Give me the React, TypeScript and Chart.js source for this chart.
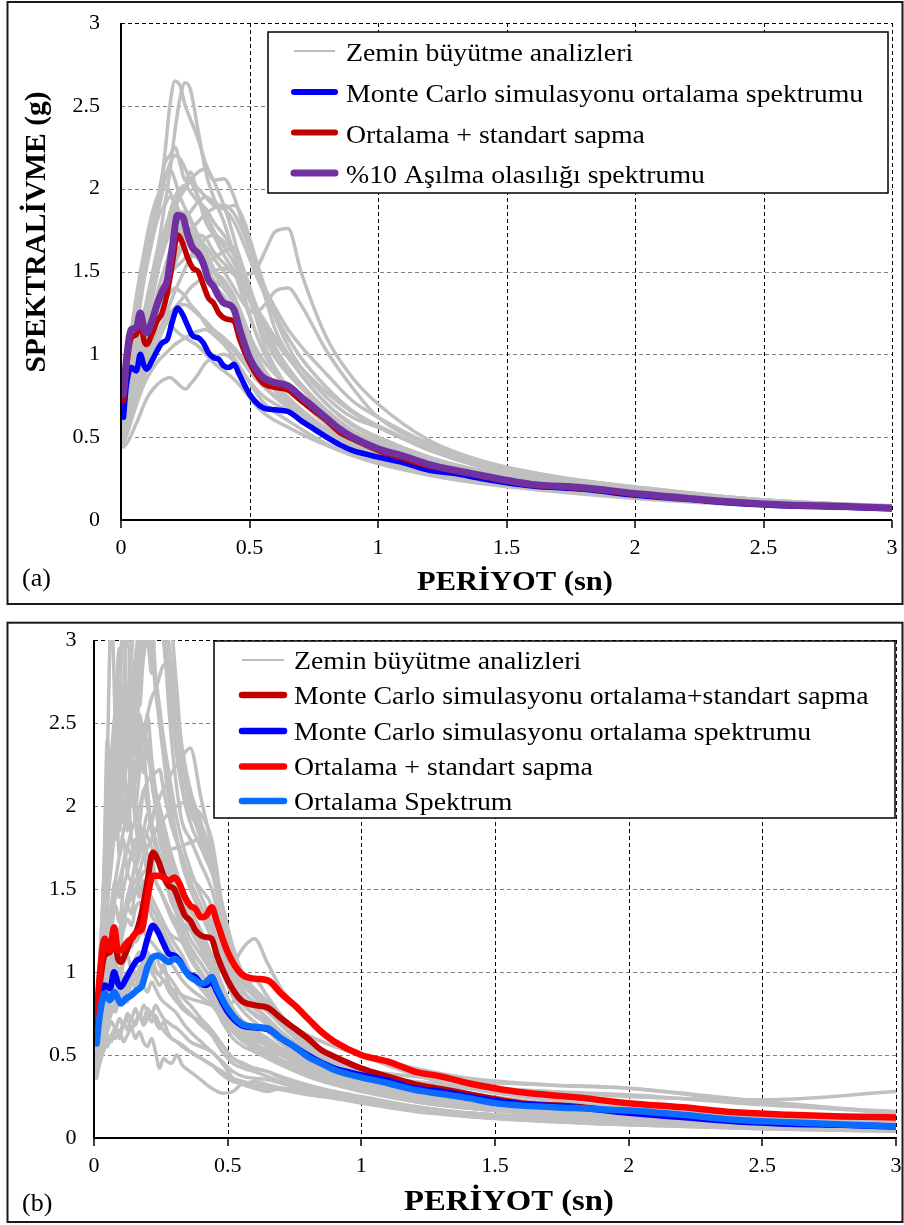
import React, { useEffect, useRef } from 'react';
import { Chart, registerables } from 'chart.js';

Chart.register(...registerables);

const SERIF = '"Liberation Serif", "Times New Roman", Times, serif';

// Tick values shared by both axes of both panels
const AXIS_TICKS = [0, 0.5, 1, 1.5, 2, 2.5, 3];

// Period grid (s) of the summary spectra
const PERIODS = [
  0.01, 0.02, 0.04, 0.06, 0.075,
  0.09, 0.1, 0.12, 0.14, 0.16,
  0.18, 0.2, 0.22, 0.24, 0.26,
  0.28, 0.3, 0.32, 0.34, 0.36,
  0.38, 0.4, 0.42, 0.44, 0.46,
  0.5, 0.55, 0.6, 0.65, 0.7,
  0.75, 0.8, 0.85, 0.9, 1.0,
  1.1, 1.2, 1.3, 1.4, 1.5,
  1.6, 1.8, 2.0, 2.2, 2.4,
  2.6, 2.8, 3.0,
];

// Monte Carlo simulation mean spectrum (g)
const MC_MEAN = [
  0.62, 0.80, 0.92, 0.90, 1.00,
  0.93, 0.91, 0.96, 1.02, 1.07,
  1.09, 1.20, 1.28, 1.24, 1.17,
  1.11, 1.10, 1.07, 1.01, 0.98,
  0.97, 0.93, 0.92, 0.94, 0.88,
  0.76, 0.68, 0.665, 0.655, 0.60,
  0.55, 0.50, 0.455, 0.42, 0.38,
  0.345, 0.30, 0.28, 0.25, 0.225,
  0.205, 0.185, 0.15, 0.125, 0.10,
  0.085, 0.078, 0.068,
];

// Monte Carlo simulation mean + standard deviation (g)
const MC_MEAN_STD = [
  0.72, 0.90, 1.10, 1.12, 1.20,
  1.08, 1.06, 1.12, 1.20, 1.25,
  1.37, 1.55, 1.72, 1.67, 1.58,
  1.52, 1.50, 1.42, 1.34, 1.31,
  1.25, 1.22, 1.21, 1.20, 1.10,
  0.95, 0.83, 0.80, 0.785, 0.72,
  0.66, 0.60, 0.53, 0.49, 0.42,
  0.37, 0.325, 0.295, 0.265, 0.235,
  0.21, 0.19, 0.155, 0.128, 0.103,
  0.088, 0.08, 0.07,
];

// 10% probability of exceedance spectrum (g)
const EXCEED_10 = [
  0.76, 0.95, 1.15, 1.16, 1.25,
  1.15, 1.13, 1.20, 1.30, 1.38,
  1.45, 1.65, 1.84, 1.83, 1.72,
  1.64, 1.61, 1.55, 1.45, 1.41,
  1.35, 1.31, 1.30, 1.27, 1.16,
  0.98, 0.865, 0.83, 0.81, 0.745,
  0.68, 0.615, 0.55, 0.50, 0.43,
  0.385, 0.335, 0.30, 0.27, 0.24,
  0.215, 0.195, 0.16, 0.132, 0.107,
  0.09, 0.083, 0.072,
];

// Site response analyses: mean + standard deviation (g)
const SITE_MEAN_STD = [
  0.72, 0.95, 1.20, 1.13, 1.27,
  1.13, 1.13, 1.17, 1.20, 1.24,
  1.26, 1.45, 1.58, 1.58, 1.57,
  1.55, 1.57, 1.53, 1.45, 1.40,
  1.38, 1.33, 1.34, 1.39, 1.30,
  1.12, 0.99, 0.96, 0.95, 0.87,
  0.80, 0.72, 0.64, 0.58, 0.50,
  0.46, 0.40, 0.37, 0.33, 0.30,
  0.275, 0.245, 0.21, 0.185, 0.155,
  0.14, 0.13, 0.124,
];

// Site response analyses: mean spectrum (g)
const SITE_MEAN = [
  0.57, 0.72, 0.87, 0.83, 0.88,
  0.84, 0.81, 0.84, 0.86, 0.89,
  0.92, 1.03, 1.09, 1.10, 1.08,
  1.06, 1.08, 1.06, 1.01, 0.97,
  0.95, 0.93, 0.94, 0.97, 0.90,
  0.78, 0.69, 0.67, 0.66, 0.60,
  0.55, 0.49, 0.45, 0.41, 0.365,
  0.33, 0.29, 0.265, 0.24, 0.21,
  0.195, 0.18, 0.165, 0.14, 0.11,
  0.095, 0.082, 0.07,
];

// Period grid of the individual site response spectra, panel (a)
const PERIODS_A = [
  0.01, 0.03, 0.05, 0.07, 0.09,
  0.11, 0.13, 0.15, 0.17, 0.19,
  0.21, 0.23, 0.25, 0.27, 0.30,
  0.33, 0.36, 0.40, 0.44, 0.48,
  0.52, 0.56, 0.60, 0.65, 0.70,
  0.80, 0.90, 1.0, 1.2, 1.4,
  1.7, 2.0, 2.5, 3.0,
];

// Individual site response spectra, panel (a) (g)
const SITE_CURVES_A = [
  [0.60, 0.85, 1.05, 1.25, 1.45, 1.60, 1.75, 1.95, 2.20, 2.50, 2.65, 2.62, 2.50, 2.42, 2.30, 2.15, 2.05, 1.90, 1.70, 1.45, 1.25, 1.05, 0.92, 0.80, 0.72, 0.58, 0.48, 0.42, 0.33, 0.26, 0.20, 0.16, 0.10, 0.07],
  [0.55, 0.75, 0.95, 1.10, 1.25, 1.40, 1.55, 1.70, 1.90, 2.10, 2.35, 2.55, 2.64, 2.60, 2.35, 2.10, 1.95, 1.80, 1.60, 1.35, 1.15, 1.00, 0.90, 0.80, 0.72, 0.58, 0.49, 0.43, 0.34, 0.27, 0.21, 0.16, 0.10, 0.07],
  [0.65, 0.90, 1.10, 1.35, 1.55, 1.65, 1.80, 1.90, 2.05, 2.15, 2.20, 2.18, 2.12, 2.05, 1.95, 1.85, 1.75, 1.65, 1.55, 1.40, 1.25, 1.10, 0.98, 0.88, 0.80, 0.64, 0.52, 0.45, 0.35, 0.28, 0.21, 0.17, 0.11, 0.075],
  [0.55, 0.70, 0.85, 1.00, 1.15, 1.30, 1.45, 1.60, 1.70, 1.80, 1.88, 1.95, 2.00, 2.05, 2.10, 2.12, 2.05, 2.06, 1.95, 1.75, 1.55, 1.35, 1.15, 1.00, 0.88, 0.70, 0.58, 0.50, 0.38, 0.30, 0.23, 0.18, 0.11, 0.08],
  [0.50, 0.65, 0.80, 0.95, 1.10, 1.25, 1.40, 1.55, 1.70, 1.85, 1.95, 2.00, 2.02, 1.98, 1.92, 1.88, 1.80, 1.72, 1.62, 1.48, 1.30, 1.15, 1.02, 0.90, 0.82, 0.66, 0.54, 0.47, 0.36, 0.29, 0.22, 0.17, 0.11, 0.075],
  [0.70, 0.95, 1.20, 1.40, 1.55, 1.65, 1.75, 1.85, 1.90, 1.95, 1.92, 1.85, 1.80, 1.75, 1.65, 1.55, 1.45, 1.40, 1.30, 1.15, 1.00, 0.90, 0.82, 0.74, 0.66, 0.54, 0.45, 0.39, 0.31, 0.25, 0.19, 0.15, 0.10, 0.07],
  [0.48, 0.60, 0.72, 0.85, 0.95, 1.05, 1.15, 1.25, 1.35, 1.45, 1.55, 1.62, 1.68, 1.70, 1.72, 1.70, 1.62, 1.55, 1.50, 1.48, 1.50, 1.62, 1.74, 1.76, 1.50, 1.10, 0.86, 0.70, 0.48, 0.36, 0.26, 0.20, 0.12, 0.085],
  [0.50, 0.62, 0.75, 0.88, 1.00, 1.10, 1.20, 1.30, 1.40, 1.50, 1.58, 1.65, 1.70, 1.72, 1.70, 1.65, 1.58, 1.50, 1.40, 1.30, 1.25, 1.30, 1.38, 1.40, 1.30, 1.02, 0.80, 0.62, 0.45, 0.34, 0.25, 0.19, 0.12, 0.08],
  [0.44, 0.48, 0.55, 0.62, 0.70, 0.76, 0.80, 0.83, 0.85, 0.86, 0.84, 0.81, 0.79, 0.82, 0.88, 0.95, 0.98, 1.00, 0.96, 0.88, 0.80, 0.74, 0.70, 0.66, 0.62, 0.53, 0.45, 0.40, 0.32, 0.26, 0.20, 0.15, 0.10, 0.07],
  [0.58, 0.75, 0.90, 1.02, 1.12, 1.20, 1.28, 1.35, 1.42, 1.48, 1.52, 1.55, 1.58, 1.60, 1.58, 1.55, 1.50, 1.45, 1.35, 1.20, 1.05, 0.95, 0.88, 0.80, 0.72, 0.58, 0.48, 0.42, 0.33, 0.26, 0.20, 0.16, 0.10, 0.07],
  [0.62, 0.82, 1.00, 1.15, 1.25, 1.35, 1.45, 1.55, 1.65, 1.75, 1.82, 1.86, 1.85, 1.80, 1.70, 1.60, 1.50, 1.40, 1.30, 1.15, 1.00, 0.88, 0.80, 0.72, 0.65, 0.53, 0.44, 0.38, 0.30, 0.24, 0.18, 0.14, 0.09, 0.065],
  [0.68, 0.88, 1.05, 1.15, 1.20, 1.22, 1.25, 1.26, 1.22, 1.18, 1.15, 1.12, 1.10, 1.08, 1.05, 1.00, 0.95, 0.90, 0.85, 0.78, 0.70, 0.64, 0.60, 0.56, 0.52, 0.45, 0.39, 0.35, 0.28, 0.23, 0.18, 0.14, 0.09, 0.065],
  [0.60, 0.80, 0.98, 1.12, 1.25, 1.38, 1.50, 1.62, 1.75, 1.85, 1.92, 1.98, 2.02, 2.05, 2.00, 1.95, 1.90, 1.88, 1.90, 1.80, 1.60, 1.40, 1.22, 1.05, 0.92, 0.74, 0.62, 0.56, 0.42, 0.32, 0.23, 0.18, 0.11, 0.08],
  [0.52, 0.70, 0.85, 0.98, 1.08, 1.16, 1.22, 1.28, 1.33, 1.37, 1.40, 1.38, 1.35, 1.30, 1.25, 1.18, 1.12, 1.06, 0.98, 0.88, 0.78, 0.70, 0.65, 0.60, 0.55, 0.46, 0.39, 0.34, 0.27, 0.22, 0.17, 0.13, 0.085, 0.06],
  [0.50, 0.60, 0.70, 0.80, 0.90, 1.00, 1.08, 1.15, 1.22, 1.30, 1.38, 1.45, 1.52, 1.58, 1.65, 1.70, 1.72, 1.68, 1.60, 1.45, 1.30, 1.18, 1.08, 0.98, 0.88, 0.70, 0.57, 0.49, 0.37, 0.29, 0.22, 0.17, 0.11, 0.075],
  [0.66, 0.90, 1.10, 1.30, 1.50, 1.68, 1.85, 2.00, 2.15, 2.20, 2.25, 2.15, 2.05, 2.10, 1.95, 1.80, 1.72, 1.60, 1.50, 1.32, 1.15, 1.00, 0.90, 0.80, 0.72, 0.58, 0.48, 0.42, 0.33, 0.26, 0.20, 0.16, 0.10, 0.07],
  [0.46, 0.55, 0.65, 0.74, 0.82, 0.88, 0.93, 0.97, 1.00, 1.03, 1.06, 1.08, 1.10, 1.12, 1.14, 1.15, 1.12, 1.08, 1.02, 0.94, 0.86, 0.80, 0.75, 0.70, 0.65, 0.55, 0.47, 0.41, 0.32, 0.26, 0.20, 0.15, 0.10, 0.07],
  [0.55, 0.68, 0.80, 0.92, 1.02, 1.12, 1.22, 1.32, 1.42, 1.50, 1.58, 1.65, 1.70, 1.75, 1.80, 1.85, 1.88, 1.90, 1.85, 1.72, 1.55, 1.40, 1.28, 1.15, 1.05, 0.88, 0.72, 0.62, 0.46, 0.35, 0.26, 0.20, 0.12, 0.085],
  [0.62, 0.85, 1.08, 1.30, 1.50, 1.68, 1.85, 1.98, 2.08, 2.12, 2.05, 1.95, 1.88, 1.82, 1.72, 1.62, 1.52, 1.42, 1.32, 1.18, 1.02, 0.90, 0.82, 0.74, 0.67, 0.55, 0.46, 0.40, 0.31, 0.25, 0.19, 0.15, 0.10, 0.07],
  [0.52, 0.66, 0.80, 0.94, 1.06, 1.18, 1.30, 1.42, 1.52, 1.62, 1.70, 1.76, 1.82, 1.86, 1.92, 1.95, 1.92, 1.88, 1.80, 1.66, 1.50, 1.36, 1.24, 1.10, 0.98, 0.80, 0.66, 0.57, 0.43, 0.33, 0.25, 0.19, 0.12, 0.08],
  [0.50, 0.62, 0.74, 0.85, 0.95, 1.03, 1.10, 1.16, 1.21, 1.25, 1.28, 1.30, 1.30, 1.28, 1.24, 1.20, 1.15, 1.10, 1.04, 0.96, 0.88, 0.80, 0.74, 0.68, 0.62, 0.52, 0.44, 0.38, 0.30, 0.24, 0.19, 0.14, 0.09, 0.065],
  [0.72, 1.00, 1.25, 1.45, 1.62, 1.78, 1.90, 1.98, 2.02, 1.98, 1.90, 1.80, 1.72, 1.66, 1.58, 1.50, 1.42, 1.35, 1.25, 1.10, 0.95, 0.85, 0.78, 0.70, 0.63, 0.52, 0.43, 0.37, 0.29, 0.23, 0.18, 0.14, 0.09, 0.065],
  [0.48, 0.56, 0.66, 0.76, 0.86, 0.95, 1.03, 1.10, 1.17, 1.23, 1.28, 1.32, 1.36, 1.40, 1.44, 1.47, 1.50, 1.52, 1.48, 1.40, 1.30, 1.20, 1.10, 1.00, 0.92, 0.77, 0.65, 0.56, 0.43, 0.33, 0.25, 0.19, 0.12, 0.08],
  [0.58, 0.76, 0.94, 1.10, 1.24, 1.36, 1.48, 1.58, 1.66, 1.72, 1.75, 1.74, 1.70, 1.64, 1.58, 1.55, 1.58, 1.62, 1.65, 1.50, 1.32, 1.16, 1.04, 0.92, 0.82, 0.66, 0.54, 0.46, 0.35, 0.28, 0.21, 0.16, 0.10, 0.075],
];

// Period grid of the individual site response spectra, panel (b)
const PERIODS_B = [
  0.01, 0.02, 0.035, 0.05, 0.065,
  0.08, 0.095, 0.11, 0.125, 0.14,
  0.155, 0.17, 0.185, 0.2, 0.215,
  0.23, 0.245, 0.26, 0.275, 0.29,
  0.31, 0.33, 0.36, 0.4, 0.44,
  0.48, 0.52, 0.56, 0.6, 0.65,
  0.7, 0.8, 0.9, 1.0, 1.2,
  1.4, 1.7, 2.0, 2.5, 3.0,
];

// Individual site response spectra, panel (b) (g)
const SITE_CURVES_B = [
  [0.70, 0.90, 1.40, 1.90, 2.20, 1.80, 2.10, 2.40, 2.00, 2.30, 2.60, 2.90, 3.30, 3.60, 3.20, 2.80, 2.60, 2.40, 2.20, 2.00, 1.80, 1.70, 1.55, 1.40, 1.25, 1.05, 0.90, 0.80, 0.75, 0.70, 0.62, 0.50, 0.42, 0.37, 0.28, 0.22, 0.16, 0.13, 0.09, 0.07],
  [0.60, 0.80, 1.10, 1.50, 1.90, 2.40, 2.20, 2.60, 3.20, 2.40, 2.00, 2.20, 2.30, 2.10, 1.90, 2.00, 1.80, 1.70, 1.60, 1.50, 1.40, 1.30, 1.20, 1.10, 1.00, 0.85, 0.72, 0.65, 0.60, 0.55, 0.50, 0.42, 0.36, 0.32, 0.25, 0.20, 0.15, 0.12, 0.08, 0.06],
  [0.80, 1.00, 1.30, 1.60, 1.80, 2.00, 1.90, 2.10, 2.30, 2.50, 2.40, 2.70, 2.90, 3.10, 3.40, 3.50, 3.30, 3.00, 2.80, 2.85, 2.40, 2.10, 1.90, 1.75, 1.60, 1.40, 1.15, 0.98, 0.90, 0.82, 0.72, 0.58, 0.48, 0.42, 0.32, 0.26, 0.20, 0.16, 0.12, 0.09],
  [0.55, 0.65, 0.80, 1.00, 1.10, 1.25, 1.15, 1.30, 1.40, 1.35, 1.50, 1.45, 1.55, 1.50, 1.45, 1.40, 1.35, 1.30, 1.25, 1.20, 1.15, 1.10, 1.00, 0.92, 0.85, 0.75, 0.64, 0.58, 0.54, 0.50, 0.45, 0.38, 0.33, 0.29, 0.22, 0.18, 0.14, 0.11, 0.08, 0.06],
  [0.40, 0.45, 0.55, 0.62, 0.58, 0.66, 0.60, 0.70, 0.65, 0.72, 0.68, 0.75, 0.70, 0.78, 0.74, 0.80, 0.76, 0.72, 0.70, 0.68, 0.66, 0.63, 0.58, 0.55, 0.52, 0.45, 0.36, 0.32, 0.30, 0.28, 0.30, 0.28, 0.25, 0.22, 0.17, 0.14, 0.11, 0.09, 0.06, 0.045],
  [0.65, 0.80, 1.00, 1.20, 1.40, 1.55, 1.70, 1.85, 1.95, 2.05, 2.15, 2.30, 2.45, 2.55, 2.65, 2.70, 2.78, 2.85, 2.80, 2.60, 2.30, 2.10, 1.95, 1.85, 1.70, 1.35, 1.05, 0.92, 0.85, 0.78, 0.68, 0.55, 0.46, 0.40, 0.31, 0.25, 0.19, 0.15, 0.11, 0.08],
  [0.75, 1.00, 1.50, 2.00, 2.30, 2.55, 2.20, 1.90, 2.10, 1.80, 1.70, 1.90, 1.75, 1.60, 1.70, 1.55, 1.50, 1.45, 1.40, 1.35, 1.30, 1.20, 1.10, 1.00, 0.90, 0.78, 0.66, 0.60, 0.56, 0.52, 0.47, 0.40, 0.34, 0.30, 0.23, 0.19, 0.14, 0.11, 0.08, 0.06],
  [0.60, 0.70, 0.90, 1.10, 1.25, 1.40, 1.30, 1.50, 1.60, 1.70, 1.65, 1.80, 1.85, 1.95, 1.90, 1.80, 1.70, 1.60, 1.55, 1.45, 1.35, 1.30, 1.25, 1.20, 1.10, 1.00, 1.05, 1.15, 1.20, 1.05, 0.90, 0.72, 0.58, 0.50, 0.38, 0.30, 0.23, 0.18, 0.13, 0.10],
  [0.70, 0.95, 1.30, 1.70, 2.10, 2.50, 2.30, 2.70, 2.50, 2.90, 3.20, 3.50, 3.10, 3.40, 3.00, 2.70, 2.50, 2.30, 2.10, 1.95, 1.80, 1.65, 1.50, 1.35, 1.20, 1.00, 0.85, 0.76, 0.70, 0.64, 0.57, 0.46, 0.39, 0.34, 0.26, 0.21, 0.16, 0.13, 0.09, 0.07],
  [0.36, 0.45, 0.60, 0.72, 0.80, 0.76, 0.85, 0.90, 0.82, 0.95, 1.00, 0.92, 1.05, 1.00, 1.10, 1.02, 0.98, 1.05, 0.95, 0.90, 0.85, 0.80, 0.75, 0.68, 0.62, 0.52, 0.45, 0.42, 0.40, 0.37, 0.34, 0.29, 0.26, 0.23, 0.18, 0.15, 0.12, 0.10, 0.07, 0.05],
  [0.55, 0.75, 1.00, 1.40, 1.80, 2.20, 2.60, 3.20, 2.50, 2.30, 2.00, 1.90, 2.10, 2.00, 1.85, 1.75, 1.70, 1.65, 1.55, 1.45, 1.35, 1.25, 1.15, 1.05, 0.95, 0.82, 0.70, 0.62, 0.57, 0.52, 0.47, 0.40, 0.35, 0.31, 0.25, 0.21, 0.17, 0.14, 0.11, 0.08],
  [0.50, 0.60, 0.75, 0.90, 1.00, 1.10, 1.20, 1.30, 1.40, 1.50, 1.55, 1.60, 1.70, 1.75, 1.80, 1.85, 1.90, 1.92, 1.95, 1.98, 2.00, 2.02, 2.00, 1.95, 1.80, 1.40, 1.10, 0.95, 0.88, 0.80, 0.72, 0.62, 0.55, 0.50, 0.42, 0.36, 0.32, 0.30, 0.22, 0.15],
  [0.45, 0.55, 0.70, 0.85, 0.95, 1.05, 1.00, 1.10, 1.20, 1.15, 1.25, 1.30, 1.35, 1.40, 1.38, 1.35, 1.30, 1.28, 1.25, 1.22, 1.20, 1.18, 1.12, 1.05, 0.95, 0.82, 0.72, 0.66, 0.62, 0.58, 0.54, 0.48, 0.42, 0.38, 0.32, 0.30, 0.28, 0.25, 0.23, 0.28],
  [0.75, 0.95, 1.25, 1.55, 1.80, 2.00, 2.20, 2.10, 2.40, 2.60, 2.80, 2.70, 3.00, 3.30, 3.60, 3.80, 3.40, 3.10, 2.70, 2.40, 2.10, 1.90, 1.80, 1.65, 1.50, 1.25, 1.00, 0.88, 0.82, 0.76, 0.68, 0.54, 0.45, 0.39, 0.30, 0.24, 0.18, 0.14, 0.10, 0.07],
  [0.62, 0.78, 1.00, 1.25, 1.40, 1.55, 1.45, 1.65, 1.75, 1.70, 1.80, 1.78, 1.85, 1.82, 1.75, 1.70, 1.62, 1.55, 1.50, 1.42, 1.35, 1.25, 1.15, 1.05, 0.95, 0.80, 0.68, 0.61, 0.57, 0.52, 0.47, 0.39, 0.33, 0.29, 0.22, 0.18, 0.14, 0.11, 0.08, 0.06],
  [0.42, 0.50, 0.58, 0.55, 0.62, 0.60, 0.65, 0.58, 0.62, 0.66, 0.60, 0.64, 0.58, 0.55, 0.60, 0.52, 0.42, 0.48, 0.46, 0.45, 0.50, 0.44, 0.40, 0.35, 0.30, 0.27, 0.28, 0.33, 0.31, 0.30, 0.29, 0.26, 0.24, 0.22, 0.17, 0.13, 0.10, 0.08, 0.055, 0.04],
  [0.65, 0.85, 1.40, 2.40, 1.90, 2.10, 1.70, 1.80, 1.60, 1.55, 1.65, 1.50, 1.45, 1.50, 1.40, 1.35, 1.30, 1.25, 1.20, 1.15, 1.10, 1.05, 0.98, 0.90, 0.82, 0.70, 0.60, 0.55, 0.52, 0.48, 0.44, 0.37, 0.32, 0.28, 0.22, 0.18, 0.14, 0.11, 0.08, 0.06],
  [0.55, 0.62, 0.75, 0.88, 0.98, 1.05, 1.10, 1.15, 1.12, 1.20, 1.18, 1.22, 1.25, 1.20, 1.18, 1.15, 1.12, 1.10, 1.08, 1.05, 1.00, 0.95, 0.90, 0.85, 0.80, 0.72, 0.64, 0.60, 0.56, 0.53, 0.50, 0.45, 0.41, 0.38, 0.34, 0.31, 0.28, 0.26, 0.20, 0.16],
  [0.68, 0.85, 1.15, 1.45, 1.70, 1.95, 2.15, 2.30, 2.45, 2.60, 2.75, 2.95, 3.15, 3.30, 3.25, 3.10, 3.20, 3.05, 2.90, 2.70, 2.45, 2.20, 2.00, 1.80, 1.62, 1.30, 1.05, 0.92, 0.86, 0.80, 0.70, 0.56, 0.47, 0.41, 0.31, 0.25, 0.19, 0.15, 0.11, 0.08],
  [0.48, 0.55, 0.65, 0.78, 0.85, 0.92, 0.88, 0.95, 1.00, 0.98, 1.05, 1.02, 1.08, 1.12, 1.06, 1.10, 1.04, 1.00, 0.98, 0.95, 0.90, 0.85, 0.80, 0.72, 0.65, 0.56, 0.48, 0.44, 0.42, 0.40, 0.37, 0.32, 0.28, 0.25, 0.19, 0.15, 0.12, 0.09, 0.065, 0.05],
  [0.80, 1.05, 1.45, 1.85, 2.05, 2.30, 2.50, 2.20, 2.35, 2.10, 2.25, 2.40, 2.20, 2.55, 2.30, 2.10, 2.00, 1.90, 1.80, 1.70, 1.60, 1.50, 1.38, 1.25, 1.10, 0.92, 0.78, 0.70, 0.65, 0.60, 0.54, 0.44, 0.37, 0.33, 0.26, 0.21, 0.16, 0.13, 0.09, 0.07],
  [0.55, 0.65, 0.80, 0.95, 1.05, 1.15, 1.25, 1.30, 1.40, 1.45, 1.50, 1.55, 1.60, 1.62, 1.66, 1.68, 1.70, 1.72, 1.72, 1.74, 1.75, 1.76, 1.78, 1.80, 1.76, 1.30, 1.00, 0.88, 0.80, 0.72, 0.64, 0.52, 0.44, 0.39, 0.30, 0.24, 0.19, 0.15, 0.11, 0.08],
  [0.72, 0.95, 1.35, 1.75, 2.20, 2.60, 2.95, 2.40, 2.70, 2.50, 2.30, 2.55, 2.40, 2.30, 2.20, 2.05, 1.95, 1.85, 1.75, 1.65, 1.55, 1.45, 1.32, 1.18, 1.05, 0.88, 0.75, 0.68, 0.63, 0.58, 0.52, 0.43, 0.36, 0.32, 0.25, 0.20, 0.15, 0.12, 0.09, 0.065],
  [0.66, 0.85, 1.10, 1.40, 1.65, 1.90, 2.10, 2.30, 2.50, 2.70, 2.90, 3.10, 3.30, 3.40, 3.50, 3.45, 3.35, 3.20, 3.05, 2.85, 2.60, 2.35, 2.10, 1.90, 1.70, 1.40, 1.12, 0.96, 0.88, 0.80, 0.72, 0.57, 0.48, 0.42, 0.32, 0.26, 0.20, 0.16, 0.11, 0.08],
  [0.45, 0.52, 0.60, 0.68, 0.75, 0.82, 0.88, 0.85, 0.92, 0.98, 0.95, 1.02, 0.98, 1.05, 1.00, 0.96, 0.92, 0.95, 0.90, 0.86, 0.82, 0.78, 0.74, 0.70, 0.64, 0.56, 0.48, 0.45, 0.42, 0.40, 0.36, 0.31, 0.27, 0.24, 0.19, 0.15, 0.12, 0.09, 0.065, 0.05],
  [0.38, 0.44, 0.52, 0.58, 0.62, 0.66, 0.62, 0.68, 0.72, 0.66, 0.70, 0.74, 0.68, 0.72, 0.76, 0.70, 0.66, 0.70, 0.64, 0.60, 0.58, 0.55, 0.52, 0.48, 0.44, 0.38, 0.34, 0.33, 0.34, 0.32, 0.30, 0.27, 0.24, 0.21, 0.16, 0.13, 0.10, 0.08, 0.055, 0.04],
  [0.62, 0.82, 1.15, 1.50, 1.80, 2.05, 1.85, 2.20, 2.45, 2.70, 2.35, 2.50, 2.25, 2.40, 2.15, 2.00, 1.88, 1.78, 1.68, 1.58, 1.48, 1.38, 1.26, 1.14, 1.02, 0.86, 0.73, 0.66, 0.61, 0.56, 0.50, 0.41, 0.35, 0.31, 0.24, 0.19, 0.15, 0.12, 0.085, 0.06],
  [0.74, 0.98, 1.35, 1.75, 2.10, 2.45, 2.75, 3.05, 3.35, 3.10, 3.40, 3.70, 3.50, 3.20, 2.95, 2.75, 2.55, 2.40, 2.25, 2.10, 1.92, 1.78, 1.62, 1.46, 1.30, 1.08, 0.90, 0.80, 0.74, 0.68, 0.60, 0.48, 0.40, 0.35, 0.27, 0.22, 0.17, 0.13, 0.09, 0.07],
  [0.52, 0.60, 0.72, 0.85, 0.95, 1.00, 0.95, 1.05, 1.10, 1.02, 1.08, 1.12, 1.06, 1.10, 1.05, 1.00, 0.98, 0.95, 0.92, 0.90, 0.88, 0.86, 0.84, 0.82, 0.80, 0.78, 0.82, 0.90, 0.95, 0.85, 0.74, 0.58, 0.48, 0.42, 0.33, 0.27, 0.21, 0.17, 0.12, 0.09],
  [0.42, 0.48, 0.56, 0.64, 0.70, 0.66, 0.72, 0.68, 0.75, 0.72, 0.78, 0.72, 0.80, 0.76, 0.70, 0.74, 0.68, 0.65, 0.62, 0.60, 0.58, 0.56, 0.52, 0.48, 0.44, 0.40, 0.36, 0.34, 0.32, 0.31, 0.30, 0.27, 0.24, 0.22, 0.17, 0.14, 0.11, 0.09, 0.06, 0.045],
  [0.60, 0.75, 0.95, 1.15, 1.30, 1.45, 1.55, 1.65, 1.75, 1.85, 1.92, 2.00, 2.08, 2.15, 2.18, 2.20, 2.22, 2.10, 1.98, 1.88, 1.78, 1.68, 1.58, 1.50, 1.40, 1.15, 0.95, 0.84, 0.78, 0.72, 0.64, 0.52, 0.44, 0.38, 0.29, 0.24, 0.18, 0.14, 0.10, 0.075],
  [0.70, 0.92, 1.50, 2.30, 3.20, 2.50, 2.20, 2.00, 1.85, 2.10, 1.90, 1.75, 1.80, 1.70, 1.62, 1.55, 1.50, 1.44, 1.38, 1.32, 1.26, 1.18, 1.08, 0.98, 0.88, 0.75, 0.64, 0.58, 0.54, 0.50, 0.46, 0.38, 0.33, 0.29, 0.23, 0.19, 0.15, 0.12, 0.085, 0.06],
  [0.50, 0.58, 0.70, 0.80, 0.86, 0.80, 0.90, 0.94, 0.88, 0.96, 0.90, 0.98, 0.92, 0.88, 0.94, 0.90, 0.85, 0.82, 0.80, 0.78, 0.75, 0.70, 0.64, 0.58, 0.52, 0.46, 0.40, 0.37, 0.36, 0.35, 0.33, 0.29, 0.26, 0.23, 0.18, 0.15, 0.12, 0.10, 0.07, 0.055],
  [0.56, 0.66, 0.80, 0.95, 1.05, 1.15, 1.25, 1.35, 1.45, 1.55, 1.62, 1.70, 1.78, 1.85, 1.92, 1.98, 2.05, 2.10, 2.15, 2.20, 2.25, 2.30, 2.35, 2.05, 1.75, 1.35, 1.08, 0.94, 0.86, 0.78, 0.70, 0.56, 0.47, 0.41, 0.32, 0.26, 0.20, 0.16, 0.12, 0.085],
  [0.68, 0.90, 1.20, 1.50, 1.75, 2.00, 2.25, 2.45, 2.30, 2.60, 2.80, 2.60, 2.90, 3.00, 2.80, 3.20, 3.60, 3.30, 3.50, 3.10, 2.70, 2.30, 2.05, 1.85, 1.65, 1.35, 1.10, 0.95, 0.87, 0.80, 0.70, 0.56, 0.46, 0.40, 0.31, 0.25, 0.19, 0.15, 0.11, 0.08],
  [0.58, 0.68, 0.82, 0.98, 1.10, 1.20, 1.15, 1.25, 1.32, 1.28, 1.38, 1.42, 1.36, 1.40, 1.34, 1.30, 1.26, 1.22, 1.18, 1.14, 1.10, 1.05, 0.98, 0.92, 0.86, 0.76, 0.68, 0.63, 0.59, 0.56, 0.53, 0.48, 0.44, 0.41, 0.37, 0.34, 0.32, 0.30, 0.21, 0.15],
];

// Legend texts
const LEGEND_A = [
  'Zemin büyütme analizleri',
  'Monte Carlo simulasyonu ortalama spektrumu',
  'Ortalama + standart sapma',
  '%10 Aşılma olasılığı spektrumu',
];
const LEGEND_B = [
  'Zemin büyütme analizleri',
  'Monte Carlo simulasyonu ortalama+standart sapma',
  'Monte Carlo simulasyonu ortalama spektrumu',
  'Ortalama + standart sapma',
  'Ortalama Spektrum',
];

const X_TITLE = 'PERİYOT (sn)';
const Y_TITLE = 'SPEKTRALİVME (g)';

const GRAY = '#C0C0C0';
const BLUE = '#0000FF';
const DARK_RED = '#C00000';
const RED = '#FF0000';
const PURPLE = '#7030A0';
const SKY = '#0A6CFF';

const toPoints = (xs: number[], ys: number[]) => xs.map((x, i) => ({ x, y: ys[i] }));

type LegendItem = { label: string; color: string; width: number };

type Panel = {
  height: number;
  padTop: number;
  padRight: number;
  yAxisWidth: number;
  xAxisHeight: number;
  yTickPad: number;
  xTickPad: number;
  legend: {
    left: number; top: number; right: number; bottom: number;
    rows: number[]; lineX0: number; lineX1: number; textX: number;
    baseline: number; size: number; sx: number; items: LegendItem[];
  };
  xTitle: { cx: number; baseline: number; size: number; sx: number };
  yTitle?: { x: number; cy: number; size: number };
  tag: { text: string; x: number; baseline: number };
  frame: { l: number; t: number; r: number; b: number };
};

function line(ctx: CanvasRenderingContext2D, x0: number, y0: number, x1: number, y1: number) {
  ctx.beginPath();
  ctx.moveTo(x0, y0);
  ctx.lineTo(x1, y1);
  ctx.stroke();
}

function stretchedText(ctx: CanvasRenderingContext2D, text: string, x: number, y: number, sx: number, align: CanvasTextAlign) {
  ctx.save();
  ctx.translate(x, y);
  ctx.scale(sx, 1);
  ctx.textAlign = align;
  ctx.fillText(text, 0, 0);
  ctx.restore();
}

function panelPlugin(p: Panel) {
  return {
    id: 'panelDecor',
    beforeDatasetsDraw(chart: any) {
      const { ctx, chartArea: a } = chart;
      const xs = chart.scales.x;
      const ys = chart.scales.y;
      ctx.save();
      ctx.lineWidth = 1;
      ctx.setLineDash([4, 3]);
      for (const v of AXIS_TICKS) {
        if (v === 0) continue;
        const py = Math.round(ys.getPixelForValue(v)) + 0.5;
        ctx.strokeStyle = v === 3 ? '#000' : '#808080';
        line(ctx, a.left, py, a.right, py);
      }
      ctx.strokeStyle = '#000';
      for (const v of AXIS_TICKS) {
        if (v === 0) continue;
        const px = Math.round(xs.getPixelForValue(v)) + 0.5;
        line(ctx, px, a.top, px, a.bottom);
      }
      ctx.restore();
    },
    afterDatasetsDraw(chart: any) {
      const { ctx, chartArea: a } = chart;
      const xs = chart.scales.x;
      ctx.save();
      ctx.setLineDash([]);
      ctx.strokeStyle = '#000';
      ctx.lineWidth = 2;
      line(ctx, a.left, a.top, a.left, a.bottom + 1);
      line(ctx, a.left, a.bottom, a.right, a.bottom);
      ctx.lineWidth = 1.5;
      for (const v of AXIS_TICKS) {
        const px = Math.round(xs.getPixelForValue(v));
        line(ctx, px, a.bottom, px, a.bottom + 8);
      }

      // legend
      const L = p.legend;
      ctx.fillStyle = '#fff';
      ctx.fillRect(L.left, L.top, L.right - L.left, L.bottom - L.top);
      ctx.lineWidth = 1.5;
      ctx.strokeStyle = '#000';
      ctx.strokeRect(L.left, L.top, L.right - L.left, L.bottom - L.top);
      ctx.font = `${L.size}px ${SERIF}`;
      ctx.textBaseline = 'alphabetic';
      L.items.forEach((it, i) => {
        const y = L.rows[i];
        ctx.strokeStyle = it.color;
        ctx.lineWidth = it.width;
        ctx.lineCap = it.width > 3 ? 'round' : 'butt';
        line(ctx, L.lineX0, y, L.lineX1, y);
        ctx.fillStyle = '#000';
        stretchedText(ctx, it.label, L.textX, y + L.baseline, L.sx, 'left');
      });

      // axis titles
      ctx.fillStyle = '#000';
      ctx.font = `bold ${p.xTitle.size}px ${SERIF}`;
      stretchedText(ctx, X_TITLE, p.xTitle.cx, p.xTitle.baseline, p.xTitle.sx, 'center');
      if (p.yTitle) {
        ctx.save();
        ctx.font = `bold ${p.yTitle.size}px ${SERIF}`;
        ctx.translate(p.yTitle.x, p.yTitle.cy);
        ctx.rotate(-Math.PI / 2);
        ctx.textAlign = 'center';
        ctx.fillText(Y_TITLE, 0, 0);
        ctx.restore();
      }
      ctx.font = `26px ${SERIF}`;
      ctx.textAlign = 'left';
      ctx.fillText(p.tag.text, p.tag.x, p.tag.baseline);

      // panel frame
      ctx.strokeStyle = '#1a1a1a';
      ctx.lineWidth = 2;
      ctx.lineCap = 'butt';
      const f = p.frame;
      ctx.strokeRect(f.l, f.t, f.r - f.l, f.b - f.t);
      ctx.restore();
    },
  };
}

function buildOptions(p: Panel): any {
  const tickFont = { family: SERIF, size: 22 };
  return {
    responsive: false,
    animation: false,
    devicePixelRatio: 1,
    events: [],
    layout: { padding: { top: p.padTop, right: p.padRight, left: 0, bottom: 0 } },
    plugins: { legend: { display: false }, tooltip: { enabled: false }, title: { display: false } },
    elements: {
      point: { radius: 0 },
      line: { cubicInterpolationMode: 'monotone', borderCapStyle: 'round', borderJoinStyle: 'round' },
    },
    scales: {
      x: {
        type: 'linear',
        min: 0,
        max: 3,
        afterBuildTicks: (s: any) => { s.ticks = AXIS_TICKS.map((value) => ({ value })); },
        afterFit: (s: any) => { s.height = p.xAxisHeight; s.paddingLeft = 0; s.paddingRight = 0; },
        grid: { display: false, drawTicks: false },
        border: { display: false },
        ticks: { padding: p.xTickPad, font: tickFont, color: '#000', maxRotation: 0, autoSkip: false, callback: (v: number) => String(v) },
      },
      y: {
        type: 'linear',
        min: 0,
        max: 3,
        afterBuildTicks: (s: any) => { s.ticks = AXIS_TICKS.map((value) => ({ value })); },
        afterFit: (s: any) => { s.width = p.yAxisWidth; s.paddingTop = 0; s.paddingBottom = 0; },
        grid: { display: false, drawTicks: false },
        border: { display: false },
        ticks: { padding: p.yTickPad, font: tickFont, color: '#000', autoSkip: false, callback: (v: number) => String(v) },
      },
    },
  };
}

const PANEL_A: Panel = {
  height: 612,
  padTop: 23,
  padRight: 12,
  yAxisWidth: 121,
  xAxisHeight: 92,
  yTickPad: 21,
  xTickPad: 15.5,
  legend: {
    left: 268, top: 32, right: 888, bottom: 193,
    rows: [51, 92, 132.5, 173], lineX0: 294, lineX1: 335, textX: 346,
    baseline: 10, size: 25.5, sx: 1.09,
    items: [
      { label: LEGEND_A[0], color: '#A6A6A6', width: 1.5 },
      { label: LEGEND_A[1], color: BLUE, width: 6 },
      { label: LEGEND_A[2], color: DARK_RED, width: 6 },
      { label: LEGEND_A[3], color: PURPLE, width: 7 },
    ],
  },
  xTitle: { cx: 515, baseline: 590, size: 28, sx: 1.09 },
  yTitle: { x: 45, cy: 232, size: 29.5 },
  tag: { text: '(a)', x: 22, baseline: 586 },
  frame: { l: 7.5, t: 2, r: 902.5, b: 604 },
};

const PANEL_B: Panel = {
  height: 613,
  padTop: 28,
  padRight: 8,
  yAxisWidth: 94,
  xAxisHeight: 87,
  yTickPad: 17.5,
  xTickPad: 15.5,
  legend: {
    left: 214, top: 29, right: 895, bottom: 206,
    rows: [48, 83, 119, 154.5, 189], lineX0: 242, lineX1: 284, textX: 294,
    baseline: 8.5, size: 25.5, sx: 1.09,
    items: [
      { label: LEGEND_B[0], color: '#A6A6A6', width: 1.5 },
      { label: LEGEND_B[1], color: DARK_RED, width: 6.5 },
      { label: LEGEND_B[2], color: BLUE, width: 6.5 },
      { label: LEGEND_B[3], color: RED, width: 6.5 },
      { label: LEGEND_B[4], color: SKY, width: 6.5 },
    ],
  },
  xTitle: { cx: 509, baseline: 598, size: 30, sx: 1.09 },
  tag: { text: '(b)', x: 22, baseline: 599 },
  frame: { l: 7.5, t: 10.7, r: 902.5, b: 610 },
};

function grayDatasets(xs: number[], curves: number[][]) {
  return curves.map((ys) => ({
    data: toPoints(xs, ys),
    borderColor: GRAY,
    borderWidth: 3.5,
  }));
}

function mainDataset(ys: number[], color: string, width: number) {
  return { data: toPoints(PERIODS, ys), borderColor: color, borderWidth: width };
}

// Datasets are listed top-most first (Chart.js paints index 0 last)
function datasetsA() {
  return [
    mainDataset(EXCEED_10, PURPLE, 7),
    mainDataset(MC_MEAN_STD, DARK_RED, 5.5),
    mainDataset(MC_MEAN, BLUE, 5.5),
    ...grayDatasets(PERIODS_A, SITE_CURVES_A),
  ];
}

function datasetsB() {
  return [
    mainDataset(SITE_MEAN, SKY, 6.5),
    mainDataset(SITE_MEAN_STD, RED, 6.5),
    mainDataset(MC_MEAN, BLUE, 6),
    mainDataset(MC_MEAN_STD, DARK_RED, 6),
    ...grayDatasets(PERIODS_B, SITE_CURVES_B),
  ];
}

function SpectrumPanel({ panel, datasets, top }: { panel: Panel; datasets: () => any[]; top: number }) {
  const ref = useRef<HTMLCanvasElement | null>(null);
  useEffect(() => {
    if (!ref.current) return;
    const chart = new Chart(ref.current, {
      type: 'line',
      data: { datasets: datasets() },
      options: buildOptions(panel),
      plugins: [panelPlugin(panel)],
    } as any);
    return () => chart.destroy();
  }, [panel, datasets]);
  return (
    <canvas
      ref={ref}
      width={904}
      height={panel.height}
      style={{ position: 'absolute', left: 0, top, width: 904, height: panel.height }}
    />
  );
}

export default function App() {
  return (
    <div style={{ position: 'absolute', left: 0, top: 0, width: 904, height: 1225, background: '#fff' }}>
      <SpectrumPanel panel={PANEL_A} datasets={datasetsA} top={0} />
      <SpectrumPanel panel={PANEL_B} datasets={datasetsB} top={612} />
    </div>
  );
}
